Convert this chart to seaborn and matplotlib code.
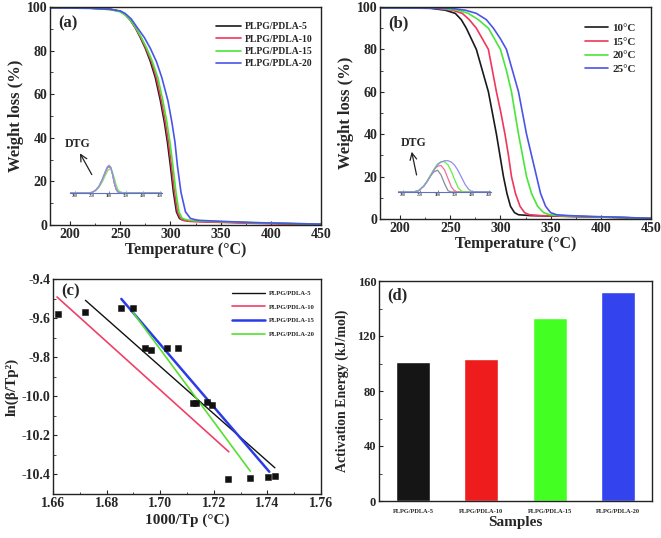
import numpy as np
import pandas as pd
import matplotlib
matplotlib.use('Agg')
import matplotlib.pyplot as plt
from matplotlib.ticker import AutoMinorLocator
import seaborn as sns

# ---- panel (a): TGA of blends ----
samples = ['PLPG/PDLA-5', 'PLPG/PDLA-10', 'PLPG/PDLA-15', 'PLPG/PDLA-20']
tga_a_temp = {
    'PLPG/PDLA-5':  [180, 220, 240, 250, 255, 260, 265, 270, 275, 280, 285, 290, 294, 297, 300, 303, 306, 309, 312, 316, 320, 330, 350, 380, 420, 450],
    'PLPG/PDLA-10': [180, 220, 240, 250, 255, 260, 265, 270.5, 275.5, 281, 286, 291, 295, 298, 301, 304, 307, 310, 313, 317, 321, 331, 350, 380, 420, 450],
    'PLPG/PDLA-15': [180, 220, 240, 250, 255, 260, 265.5, 271, 276.5, 282, 287.5, 292.5, 296.5, 299.5, 302.5, 305.5, 308.5, 311.5, 315, 319, 323, 333, 352, 380, 420, 450],
    'PLPG/PDLA-20': [180, 220, 240, 250, 255, 261, 267, 274, 280, 286, 291.5, 297.5, 301.5, 304.5, 307, 310.5, 315, 320, 326, 330, 335, 345, 360, 385, 420, 450],
}
tga_a_wt = {
    'PLPG/PDLA-5':  [99.6, 99.5, 99.0, 98.0, 96.5, 94.0, 90.5, 86.0, 81.0, 75.0, 67.5, 57.0, 47.0, 38.0, 27.0, 15.0, 6.0, 3.0, 2.3, 2.0, 1.9, 1.7, 1.4, 1.0, 0.6, 0.3],
    'PLPG/PDLA-10': [99.6, 99.5, 99.0, 98.0, 96.5, 94.0, 90.5, 86.0, 81.0, 75.0, 67.5, 57.0, 47.0, 38.0, 27.0, 15.0, 6.0, 3.0, 2.1, 1.8, 1.6, 1.4, 1.2, 0.8, 0.4, 0.2],
    'PLPG/PDLA-15': [99.6, 99.4, 98.8, 97.8, 96.3, 94.0, 90.5, 86.0, 81.0, 75.0, 67.5, 57.0, 47.0, 38.0, 27.0, 15.0, 6.0, 3.2, 2.5, 2.2, 2.0, 1.8, 1.5, 1.1, 0.7, 0.4],
    'PLPG/PDLA-20': [99.6, 99.4, 98.9, 98.2, 97.0, 94.5, 90.5, 86.0, 81.0, 75.0, 67.5, 57.0, 47.0, 38.0, 27.0, 15.0, 6.0, 3.0, 2.3, 2.1, 2.0, 1.8, 1.5, 1.1, 0.7, 0.4],
}
dtg_a_temp = [185, 240, 250, 260, 270, 280, 290, 295, 300, 305, 310, 315, 320, 325, 330, 340, 455]
dtg_a_val = {
    'PLPG/PDLA-5':  [0, 0, 0.02, 0.08, 0.20, 0.40, 0.65, 0.76, 0.80, 0.74, 0.55, 0.30, 0.12, 0.04, 0.01, 0, 0],
    'PLPG/PDLA-10': [0, 0, 0.02, 0.08, 0.20, 0.41, 0.67, 0.78, 0.82, 0.76, 0.57, 0.31, 0.12, 0.04, 0.01, 0, 0],
    'PLPG/PDLA-15': [0, 0, 0.02, 0.07, 0.17, 0.34, 0.56, 0.66, 0.72, 0.72, 0.62, 0.45, 0.26, 0.12, 0.05, 0.01, 0],
    'PLPG/PDLA-20': [0, 0, 0.02, 0.08, 0.20, 0.42, 0.69, 0.80, 0.84, 0.78, 0.58, 0.32, 0.13, 0.04, 0.01, 0, 0],
}
colors_a = ['#1a1a1a', '#f0365a', '#48e63a', '#4a55e8']
dtg_colors_a = ['#888888', '#f07090', '#80e070', '#9090e8']

# ---- panel (b): crystallization temperature ----
temps = ['10°C', '15°C', '20°C', '25°C']
tga_b_temp = {
    '10°C': [180, 230, 245, 255, 261, 266, 271, 276, 282, 288, 292, 296, 299.5, 303, 306.5, 310, 314, 318, 330, 370, 410, 450],
    '15°C': [180, 235, 252, 262, 269, 276, 282, 288, 292, 296, 300.5, 304.5, 308, 311, 315, 319.5, 324, 329, 340, 375, 410, 450],
    '20°C': [180, 240, 258, 268, 278, 288, 294, 300, 306, 311, 314.5, 318, 322, 326, 331, 337, 343, 349, 360, 385, 415, 450],
    '25°C': [180, 250, 265, 276, 286, 293, 300, 306, 312, 318, 322, 326, 331, 336, 340, 345, 350, 356, 368, 390, 420, 450],
}
tga_b_wt = {
    '10°C': [99.6, 99.4, 98.5, 97.0, 94.0, 90.0, 85.0, 80.0, 70.0, 60.0, 50.0, 40.0, 30.0, 20.0, 12.0, 6.0, 3.0, 2.0, 1.6, 1.2, 0.8, 0.3],
    '15°C': [99.6, 99.4, 98.5, 97.0, 94.0, 90.0, 85.0, 80.0, 70.0, 60.0, 50.0, 40.0, 30.0, 20.0, 12.0, 6.0, 3.0, 2.0, 1.6, 1.2, 0.8, 0.3],
    '20°C': [99.6, 99.4, 98.5, 97.0, 94.0, 90.0, 85.0, 80.0, 70.0, 60.0, 50.0, 40.0, 30.0, 20.0, 12.0, 6.0, 3.0, 2.0, 1.6, 1.2, 0.8, 0.3],
    '25°C': [99.6, 99.4, 98.5, 97.0, 94.0, 90.0, 85.0, 80.0, 70.0, 60.0, 50.0, 40.0, 30.0, 20.0, 12.0, 6.0, 3.0, 2.0, 1.6, 1.2, 0.8, 0.3],
}
dtg_b_temp = [185, 230, 245, 260, 270, 280, 290, 300, 310, 320, 330, 340, 350, 360, 370, 380, 390, 400, 455]
dtg_b_val = {
    '10°C': [0, 0, 0.04, 0.18, 0.32, 0.48, 0.60, 0.64, 0.50, 0.25, 0.04, 0, 0, 0, 0, 0, 0, 0, 0],
    '15°C': [0, 0, 0.04, 0.18, 0.33, 0.50, 0.66, 0.76, 0.78, 0.65, 0.40, 0.15, 0.02, 0, 0, 0, 0, 0, 0],
    '20°C': [0, 0, 0.04, 0.18, 0.33, 0.50, 0.68, 0.83, 0.89, 0.89, 0.80, 0.60, 0.35, 0.12, 0.02, 0, 0, 0, 0],
    '25°C': [0, 0, 0.04, 0.17, 0.31, 0.48, 0.66, 0.80, 0.88, 0.92, 0.92, 0.88, 0.78, 0.62, 0.42, 0.22, 0.08, 0.01, 0],
}
dtg_colors_b = ['#8a8a9a', '#f07090', '#66ee44', '#9090e8']

# ---- panel (c): Kissinger-type plot ----
kis_x = [1.6619, 1.6721, 1.6855, 1.6899, 1.6943, 1.6966, 1.7025, 1.7067,
         1.7123, 1.7133, 1.7173, 1.7193, 1.7254, 1.7336, 1.7403, 1.7428]
kis_y = [-9.579, -9.567, -9.550, -9.547, -9.755, -9.762, -9.755, -9.752,
         -10.033, -10.033, -10.028, -10.045, -10.425, -10.419, -10.412, -10.408]
fit_labels = ['PLPG/PDLA-5', 'PLPG/PDLA-10', 'PLPG/PDLA-15', 'PLPG/PDLA-20']
fit_x = {'PLPG/PDLA-5': [1.6721, 1.7428], 'PLPG/PDLA-10': [1.6615, 1.7256],
         'PLPG/PDLA-15': [1.6855, 1.7407], 'PLPG/PDLA-20': [1.6899, 1.7336]}
fit_y = {'PLPG/PDLA-5': [-9.509, -10.366], 'PLPG/PDLA-10': [-9.492, -10.284],
         'PLPG/PDLA-15': [-9.502, -10.386], 'PLPG/PDLA-20': [-9.572, -10.383]}
fit_colors = ['#111111', '#f0406a', '#2b3be8', '#55e030']
fit_widths = [1.0, 1.2, 1.8, 1.2]

# ---- panel (d): activation energy ----
ea_values = [101, 103, 133, 152]
ea_colors = ['#151515', '#ee1c1c', '#44ff22', '#3344ee']

sns.set_theme(style='ticks')
plt.rcParams['font.family'] = ['Liberation Serif', 'DejaVu Serif']
plt.rcParams['font.weight'] = 'bold'
plt.rcParams['axes.labelweight'] = 'bold'
plt.rcParams['axes.linewidth'] = 1.0
plt.rcParams['xtick.direction'] = 'in'
plt.rcParams['ytick.direction'] = 'in'
plt.rcParams['xtick.labelsize'] = 10
plt.rcParams['ytick.labelsize'] = 10

fig = plt.figure(figsize=(6.61, 5.38), dpi=100)
W, H = 661, 538


def px_axes(l, t, r, b):
    return fig.add_axes([l / W, 1 - b / H, (r - l) / W, (b - t) / H])


def style(ax):
    for s in ax.spines.values():
        s.set_color('#222222')
    ax.tick_params(length=3, width=0.8, pad=2)
    ax.tick_params(which='minor', length=1.8, width=0.6)
    for lab in ax.get_xticklabels() + ax.get_yticklabels():
        lab.set_fontweight('bold')


def tga_panel(ax, keys, tdict, wdict, colors, lw, letter, leg_fs, leg_pos, hl):
    for k, c in zip(keys, colors):
        df = pd.DataFrame({'T': tdict[k], 'W': wdict[k]})
        sns.lineplot(data=df, x='T', y='W', ax=ax, color=c, lw=lw, label=k,
                     sort=False, estimator=None)
    ax.set_xlim(180, 450)
    ax.set_ylim(0, 100)
    ax.set_xticks([200, 250, 300, 350, 400, 450])
    ax.set_yticks([0, 20, 40, 60, 80, 100])
    ax.xaxis.set_minor_locator(AutoMinorLocator(2))
    ax.yaxis.set_minor_locator(AutoMinorLocator(2))
    ax.set_xlabel('Temperature (°C)', fontsize=11.5, labelpad=1)
    ax.set_ylabel('Weight loss (%)', fontsize=12, labelpad=2)
    ax.text(0.03, 0.96, letter, transform=ax.transAxes, fontsize=12,
            fontweight='bold', va='top')
    ax.legend(loc='upper right', bbox_to_anchor=leg_pos, frameon=False,
              prop={'size': leg_fs, 'weight': 'bold'}, handlelength=hl,
              labelspacing=0.35, handletextpad=0.4)
    style(ax)


def dtg_inset(rect, keys, tvals, vdict, colors):
    ins = px_axes(*rect)
    for k, c in zip(keys, colors):
        df = pd.DataFrame({'T': tvals, 'V': vdict[k]})
        sns.lineplot(data=df, x='T', y='V', ax=ins, color=c, lw=0.9,
                     estimator=None, legend=False)
    ins.set_xlim(185, 455)
    ins.set_ylim(0, 1)
    ins.patch.set_alpha(0)
    for s in ['top', 'left', 'right']:
        ins.spines[s].set_visible(False)
    ins.spines['bottom'].set_color('#6070c0')
    ins.spines['bottom'].set_linewidth(0.8)
    ins.set_xticks([200, 250, 300, 350, 400, 450])
    ins.set_yticks([])
    ins.tick_params(axis='x', labelsize=3, length=1.5, width=0.5, pad=1,
                    colors='#555555', direction='in')
    ins.set_xlabel('')
    ins.set_ylabel('')
    return ins


# (a)
ax_a = px_axes(50, 7, 321, 225)
tga_panel(ax_a, samples, tga_a_temp, tga_a_wt, colors_a, 1.2, '(a)', 6.9, (1.0, 0.97), 2.6)
dtg_inset((70, 160, 162, 193), samples, dtg_a_temp, dtg_a_val, dtg_colors_a)
ax_a.text(195, 36, 'DTG', fontsize=8.5, fontweight='bold')
ax_a.annotate('', xy=(208.5, 34), xytext=(223, 22),
              arrowprops=dict(arrowstyle='->', color='#222222', lw=0.9))

# (b)
ax_b = px_axes(380, 7, 651, 219)
tga_panel(ax_b, temps, tga_b_temp, tga_b_wt, colors_a, 1.2, '(b)', 8, (0.98, 0.97), 2.0)
dtg_inset((398, 158, 491, 192), temps, dtg_b_temp, dtg_b_val, dtg_colors_b)
ax_b.text(201, 34.5, 'DTG', fontsize=8.5, fontweight='bold')
ax_b.annotate('', xy=(211, 33), xytext=(217, 19.5),
              arrowprops=dict(arrowstyle='->', color='#222222', lw=0.9))

# (c)
ax_c = px_axes(53, 279, 321, 494)
for k, c, lw in zip(fit_labels, fit_colors, fit_widths):
    df = pd.DataFrame({'x': fit_x[k], 'y': fit_y[k]})
    sns.lineplot(data=df, x='x', y='y', ax=ax_c, color=c, lw=lw, label=k,
                 estimator=None)
sns.scatterplot(x=kis_x, y=kis_y, ax=ax_c, marker='s', s=22, color='#111111',
                edgecolor='#111111', zorder=5)
ax_c.set_xlim(1.66, 1.76)
ax_c.set_ylim(-10.5, -9.4)
ax_c.set_xticks([1.66, 1.68, 1.70, 1.72, 1.74, 1.76])
ax_c.set_xticklabels(['1.66', '1.68', '1.70', '1.72', '1.74', '1.76'])
ax_c.set_yticks([-10.4, -10.2, -10.0, -9.8, -9.6, -9.4])
ax_c.set_yticklabels(['-10.4', '-10.2', '-10.0', '-9.8', '-9.6', '-9.4'])
ax_c.xaxis.set_minor_locator(AutoMinorLocator(2))
ax_c.yaxis.set_minor_locator(AutoMinorLocator(2))
ax_c.set_xlabel('1000/Tp (°C)', fontsize=11, labelpad=3)
ax_c.set_ylabel('ln(β/Tp²)', fontsize=11, labelpad=2)
ax_c.text(0.03, 0.98, '(c)', transform=ax_c.transAxes, fontsize=12,
          fontweight='bold', va='top')
ax_c.legend(loc='upper right', bbox_to_anchor=(1.0, 0.975), frameon=False,
            prop={'size': 4.8, 'weight': 'bold'}, handlelength=5.0,
            labelspacing=1.2, handletextpad=0.6)
style(ax_c)

# (d)
ax_d = px_axes(379, 281, 652, 501)
df_d = pd.DataFrame({'Sample': samples, 'Ea': ea_values})
sns.barplot(data=df_d, x='Sample', y='Ea', hue='Sample', palette=ea_colors,
            ax=ax_d, width=0.5, legend=False, saturation=1)
ax_d.set_xlim(-0.5, 3.5)
ax_d.set_ylim(0, 160)
ax_d.set_yticks([0, 40, 80, 120, 160])
ax_d.yaxis.set_minor_locator(AutoMinorLocator(2))
ax_d.set_xlabel('Samples', fontsize=11, labelpad=1)
ax_d.set_ylabel('Activation Energy (kJ/mol)', fontsize=10, labelpad=6)
ax_d.text(0.03, 0.97, '(d)', transform=ax_d.transAxes, fontsize=12,
          fontweight='bold', va='top')
style(ax_d)
ax_d.tick_params(axis='y', labelsize=9)
ax_d.tick_params(axis='x', labelsize=4.6, length=0, pad=6)

fig.savefig('out.png', dpi=100)
